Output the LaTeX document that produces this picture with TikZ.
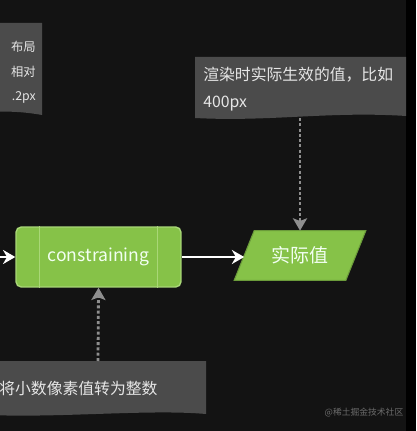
\documentclass[tikz,border=0pt]{standalone}
\usepackage{fontspec}
\setmainfont{Noto Sans CJK SC}
\usepackage{tikz}
\usetikzlibrary{shapes.geometric, arrows.meta, positioning, calc, backgrounds}
\definecolor{bgDark}{HTML}{131313}
\definecolor{noteGray}{HTML}{4B4B4B}
\definecolor{noteText}{HTML}{E6E6E6}
\definecolor{procGreen}{HTML}{86C248}
\definecolor{procEdge}{HTML}{A9D777}
\definecolor{arrGray}{HTML}{8E8E8E}

\begin{document}
\begin{tikzpicture}[x=0.02cm, y=-0.02cm,
    procbox/.style={rectangle, rounded corners=3pt, fill=procGreen, draw=procEdge, line width=0.8pt,
      minimum width=3.3cm, minimum height=1.2cm, text=white!95!green, font=\fontsize{10}{12}\selectfont},
    databox/.style={rectangle, minimum width=2.22cm, minimum height=0.98cm, inner sep=0pt,
      text=white!95!green, font=\fontsize{10.8}{12}\selectfont},
    notetext/.style={text=noteText, inner sep=0pt},
    warr/.style={-{Stealth[length=7pt, width=8pt]}, line width=1.6pt, white},
    darr/.style={-{Stealth[length=7pt, width=8pt, inset=1.5pt]}, line width=1.6pt, arrGray,
      dash pattern=on 1.7pt off 1.3pt}
  ]
  \useasboundingbox (0,0) rectangle (416,431);
  \begin{scope}[on background layer]
    \fill[bgDark] (0,0) rectangle (416,431);
    \fill[black] (406,0) rectangle (416,431);
  \end{scope}

  % notes
  \fill[noteGray] (-10,23) -- (42,23) -- (42,115) .. controls (25,112) and (10,111) .. (-10,112) -- cycle;
  \fill[noteGray] (195,57) -- (406,57) -- (406,116) .. controls (330,111) and (270,122) .. (195,118) -- cycle;
  \fill[noteGray] (-10,361) -- (206,361) -- (206,414) .. controls (150,409) and (60,418) .. (-10,415) -- cycle;

  \node[notetext, anchor=north east, align=right, font=\fontsize{7}{13.9}\selectfont] (lnote) at (36,41) {布局\\相对\\.2px};
  \node[notetext, anchor=north west, align=left, font=\fontsize{9}{15.4}\selectfont] (rnote) at (203,67) {渲染时实际生效的值，比如\\400px};
  \node[notetext, anchor=west, font=\fontsize{9}{11}\selectfont] (bnote) at (-1,389) {将小数像素值转为整数};
  \coordinate (rnotebot) at (300,118);
  \coordinate (bnotetop) at (98,361);
  \coordinate (inleft) at (-2,257);

  % main flow
  \node[procbox] (constr) at (98.5,257) {constraining};
  \draw[procEdge] ([xshift=0.48cm]constr.north west) -- ([xshift=0.48cm]constr.south west);
  \draw[procEdge] ([xshift=-0.48cm]constr.north east) -- ([xshift=-0.48cm]constr.south east);
  \node[databox] (actual) at (300,255.5) {实际值};
  \begin{scope}[on background layer]
    \filldraw[fill=procGreen, draw=procGreen!80!black, line width=0.6pt]
      ([xshift=-0.2cm]actual.south west) -- ([xshift=0.2cm]actual.north west)
      -- ([xshift=0.2cm]actual.north east) -- ([xshift=-0.2cm]actual.south east) -- cycle;
  \end{scope}

  \draw[warr] (inleft) -- (constr.west);
  \draw[warr] (constr.east) -- (constr.east -| actual.west);
  \draw[darr] (rnotebot) -- (actual.north);
  \draw[darr] (bnotetop) -- (constr.south);

  \node[text=white!42!black, font=\fontsize{5}{6}\selectfont] (mark) at (364,413) {@稀土掘金技术社区};
\end{tikzpicture}
\end{document}
